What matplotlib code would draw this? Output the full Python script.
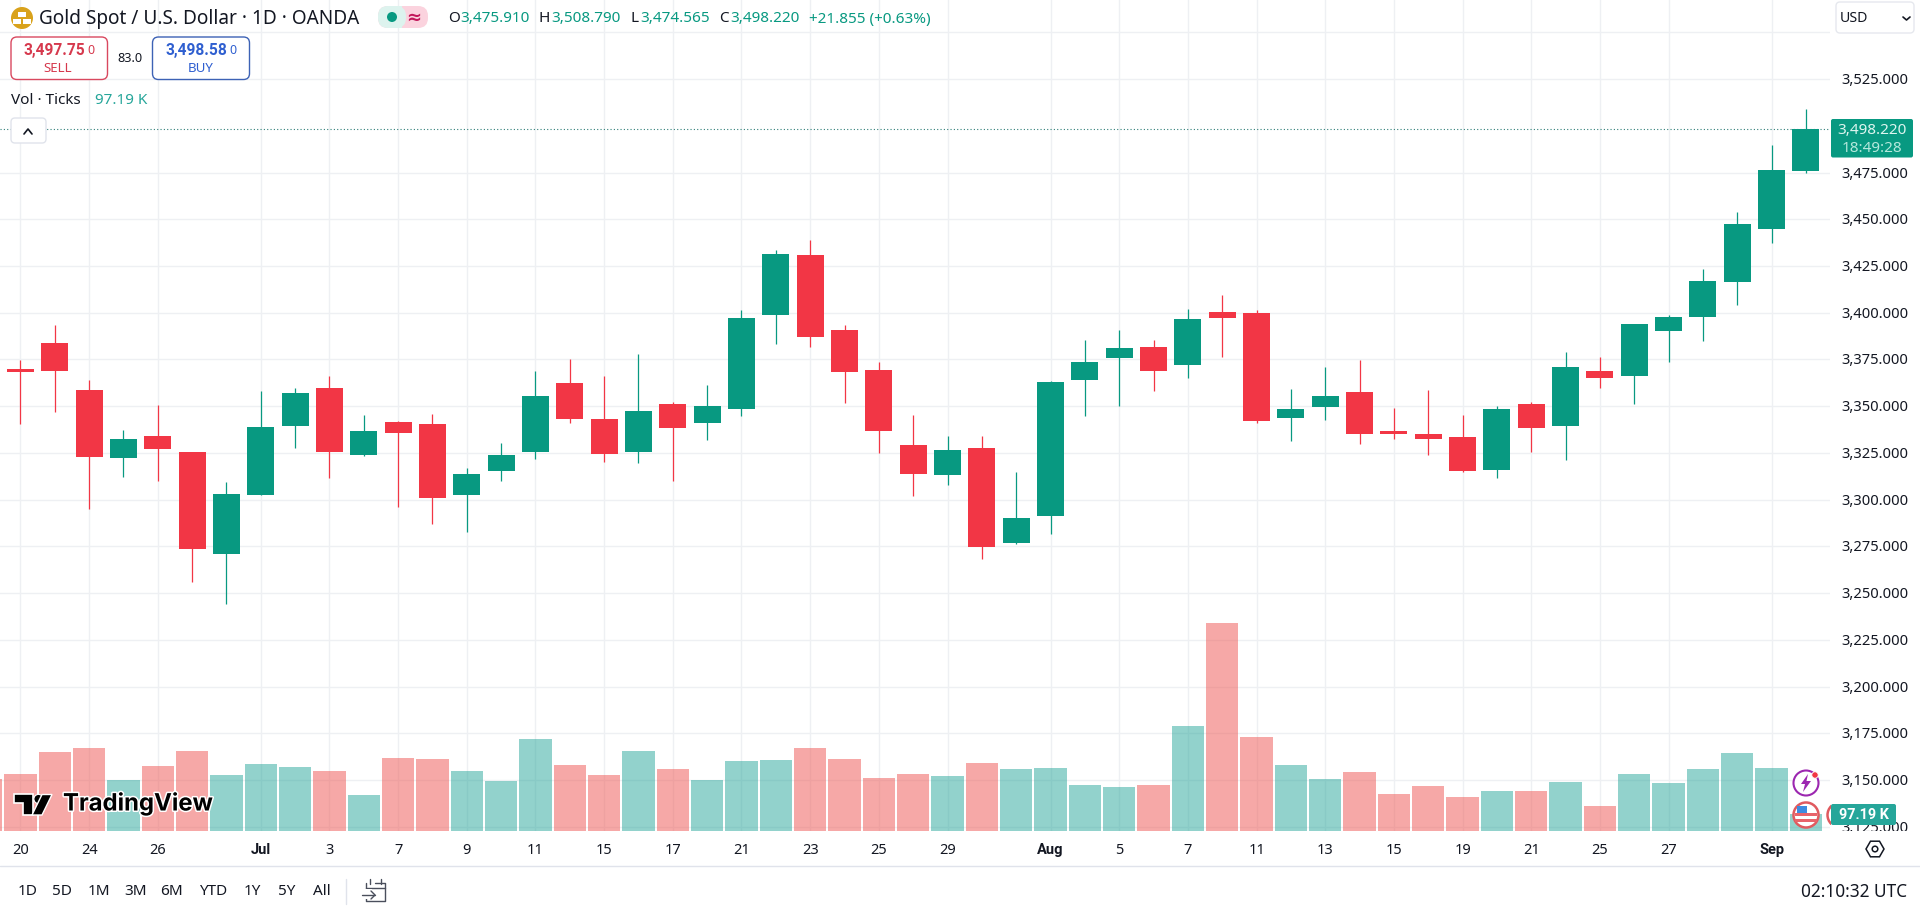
import matplotlib
matplotlib.use("Agg")
import matplotlib.pyplot as plt
import numpy as np
from matplotlib.lines import Line2D
from matplotlib.patches import Circle, FancyBboxPatch, Polygon, Rectangle
from matplotlib.transforms import Affine2D, ScaledTranslation
import matplotlib.patheffects as pe

plt.rcParams["font.family"] = ["Noto Sans", "DejaVu Sans"]

opens = [3369.9, 3383.8, 3358.6, 3322.4, 3334.0, 3325.5, 3271.0, 3302.6, 3339.5, 3359.7,
         3324.0, 3341.5, 3340.4, 3302.6, 3315.5, 3325.6, 3362.4, 3343.1, 3325.6, 3351.1,
         3341.2, 3348.6, 3398.9, 3430.8, 3390.7, 3369.3, 3329.2, 3313.3, 3327.6, 3277.0,
         3291.4, 3364.2, 3375.9, 3381.6, 3372.2, 3400.4, 3399.7, 3343.8, 3349.7, 3357.6,
         3336.7, 3335.1, 3333.5, 3316.0, 3351.1, 3339.6, 3368.8, 3366.3, 3390.4, 3397.9,
         3416.6, 3444.9, 3475.91]
highs = [3374.7, 3393.4, 3364.0, 3337.2, 3350.6, 3325.5, 3309.4, 3357.9, 3360.0, 3366.0,
         3345.3, 3342.2, 3345.6, 3316.9, 3330.3, 3368.8, 3375.0, 3366.1, 3377.9, 3352.2,
         3361.3, 3401.4, 3433.3, 3438.9, 3393.2, 3373.4, 3345.1, 3334.0, 3334.0, 3314.8,
         3363.3, 3385.2, 3390.7, 3385.2, 3402.0, 3409.4, 3401.4, 3359.2, 3370.9, 3374.7,
         3349.0, 3358.6, 3345.3, 3349.9, 3352.2, 3379.0, 3376.3, 3393.9, 3398.6, 3423.2,
         3453.7, 3489.7, 3508.79]
lows = [3340.4, 3346.7, 3295.0, 3312.1, 3310.0, 3256.0, 3244.3, 3302.6, 3327.8, 3311.7,
        3323.5, 3296.2, 3287.0, 3282.8, 3310.1, 3321.7, 3341.0, 3320.3, 3319.8, 3310.0,
        3332.1, 3344.9, 3383.4, 3381.8, 3351.9, 3325.0, 3302.1, 3308.0, 3268.4, 3276.4,
        3281.8, 3344.9, 3350.3, 3358.3, 3365.0, 3376.3, 3341.2, 3331.5, 3342.8, 3329.9,
        3332.6, 3324.0, 3315.0, 3311.7, 3325.7, 3321.4, 3359.9, 3351.2, 3373.6, 3385.0,
        3404.3, 3437.5, 3474.565]
closes = [3368.4, 3369.0, 3323.0, 3332.4, 3327.2, 3273.8, 3303.0, 3338.8, 3357.0, 3325.6,
          3336.7, 3335.8, 3301.0, 3313.7, 3323.9, 3355.4, 3343.3, 3324.6, 3347.4, 3338.5,
          3350.1, 3397.1, 3431.4, 3387.2, 3368.4, 3336.9, 3313.9, 3326.5, 3274.8, 3290.2,
          3362.9, 3373.6, 3381.1, 3369.0, 3396.6, 3397.1, 3342.2, 3348.5, 3355.4, 3335.3,
          3335.3, 3332.6, 3315.5, 3348.5, 3338.5, 3370.9, 3365.2, 3393.9, 3397.7, 3416.9,
          3447.4, 3476.3, 3498.22]
# in thousands of ticks
volumes = [330, 460, 481, 295, 376, 464, 324, 388, 371, 347,
           208, 423, 417, 347, 289, 534, 382, 324, 464, 359,
           295, 405, 411, 481, 417, 307, 330, 318, 394, 359,
           365, 266, 254, 266, 609, 1209, 545, 382, 301, 341,
           213, 260, 196, 231, 231, 283, 144, 330, 277, 359,
           452, 365, 97.19]
prev_volume = 301

price_ticks = [3550, 3525, 3475, 3450, 3425, 3400, 3375, 3350, 3325, 3300, 3275, 3250, 3225, 3200, 3175, 3150, 3125]
price_labels = ["", "3,525.000", "3,475.000", "3,450.000", "3,425.000", "3,400.000", "3,375.000", "3,350.000",
                "3,325.000", "3,300.000", "3,275.000", "3,250.000", "3,225.000", "3,200.000", "3,175.000",
                "3,150.000", "3,125.000"]
date_pos = [0, 2, 4, 7, 9, 11, 13, 15, 17, 19, 21, 23, 25, 27, 30, 32, 34, 36, 38, 40, 42, 44, 46, 48, 51]
date_labels = ["20", "24", "26", "Jul", "3", "7", "9", "11", "15", "17", "21", "23", "25", "29", "Aug",
               "5", "7", "11", "13", "15", "19", "21", "25", "27", "Sep"]
last_price = 3498.22

GREEN = "#089981"
RED = "#F23645"
INK = "#131722"
GRID = "#EEF0F3"
BOLD_FONT = "Roboto"

W, H = 1920, 912
fig = plt.figure(figsize=(W / 100, H / 100), dpi=100, facecolor="white")
px = Affine2D().scale(1 / W, -1 / H).translate(0, 1) + fig.transFigure


def axes_px(x0, y0, x1, y1, **kw):
    return fig.add_axes([x0 / W, 1 - y1 / H, (x1 - x0) / W, (y1 - y0) / H], **kw)


def txt(x, y, s, size=10.5, color=INK, ha="left", weight="normal", **kw):
    if weight == "bold" and "family" not in kw:
        kw["family"] = BOLD_FONT
    return fig.text(x, y, s, transform=px, fontsize=size, color=color, ha=ha, va="center",
                    fontweight=weight, zorder=8, **kw)


def box(x0, y0, x1, y1, face="white", edge="none", round_px=4, lw=1, z=5):
    p = FancyBboxPatch((x0 + round_px, y0 + round_px), x1 - x0 - 2 * round_px, y1 - y0 - 2 * round_px,
                       boxstyle="round,pad=%f,rounding_size=%f" % (round_px, round_px),
                       fc=face, ec=edge, lw=lw, transform=px, zorder=z)
    fig.add_artist(p)
    return p


def stroke(xs, ys, color=INK, lw=1.0, z=6):
    fig.add_artist(Line2D(xs, ys, color=color, lw=lw, transform=px, zorder=z, solid_capstyle="round"))


def shape(p, z=6):
    fig.add_artist(p)
    p.set_transform(px)
    p.set_zorder(z)


# price pane
xlim = (-0.594, 52.7)
ax = axes_px(0, 0, 1830, 832, zorder=1)
ax.set_xlim(*xlim)
ax.set_ylim(3122.8, 3567.8)
for s in ax.spines.values():
    s.set_visible(False)
ax.yaxis.tick_right()
ax.set_yticks(price_ticks, price_labels)
ax.tick_params(axis="y", length=0, pad=8, labelsize=10.6, labelcolor=INK)
up = ScaledTranslation(0, 1.5 / 72 * 0.72, fig.dpi_scale_trans)
for t in ax.get_yticklabels():
    t.set_transform(t.get_transform() + up)
ax.set_xticks(date_pos)
ax.tick_params(axis="x", length=0, labelbottom=False)
ax.grid(True, color=GRID, lw=1)
ax.set_axisbelow(True)

x = np.arange(len(closes))
o = np.array(opens)
c = np.array(closes)
col = [GREEN if cc >= oo else RED for oo, cc in zip(o, c)]
ax.vlines(x, lows, highs, colors=col, lw=0.9, zorder=2)
ax.bar(x, np.abs(c - o), bottom=np.minimum(o, c), width=0.786, color=col, lw=0, zorder=3)
ax.axhline(last_price, color="#2F7F78", lw=0.8, ls=(0, (1, 2)), zorder=2)

# volume pane on top with its own scale
ax_vol = axes_px(0, 0, 1830, 832, zorder=2)
ax_vol.patch.set_alpha(0)
ax_vol.set_xlim(*xlim)
ax_vol.set_ylim(0, 832 * 5.82)
ax_vol.axis("off")
vcol = ["#26A69A" if cc >= oo else "#EF5350" for oo, cc in zip(o, c)]
ax_vol.bar(x, volumes, width=0.94, color=vcol, alpha=0.5, lw=0)
ax_vol.bar([-1], [prev_volume], width=0.94, color="#EF5350", alpha=0.5, lw=0)

# date strip
ax_date = axes_px(0, 832, 1920, 867, zorder=3)
ax_date.set_xlim(xlim[0], xlim[0] + (xlim[1] - xlim[0]) * 1920 / 1830)
ax_date.set_ylim(0, 1)
ax_date.set_yticks([])
for s in ax_date.spines.values():
    s.set_visible(False)
ax_date.tick_params(axis="x", length=0, pad=-17, labelsize=10.5, labelcolor=INK)
ax_date.set_xticks(date_pos, date_labels)
for t in ax_date.get_xticklabels():
    if t.get_text() in ("Jul", "Aug", "Sep"):
        t.set_fontweight("bold")
        t.set_family(BOLD_FONT)

stroke([0, 1920], [867, 867], "#E0E3EB", 1)

# header
shape(Circle((22, 19), 11, fc="#D9A21B", ec="none"))
for bx, by in [(17, 22), (27, 22), (22, 15)]:
    shape(Rectangle((bx - 4, by - 2.5), 8, 5, fc="white", ec="none"), z=7)
txt(39, 19, "Gold Spot / U.S. Dollar · 1D · OANDA", size=13.7)
box(378, 7, 428, 29, face="#FBD3DE", round_px=10)
box(378, 7, 406, 29, face="#DDF3EE", round_px=10, z=5)
shape(Rectangle((396, 7), 6, 22, fc="#DDF3EE", ec="none"), z=5)
shape(Circle((392, 18), 5, fc=GREEN, ec="none"))
txt(414, 18, "≈", size=13, color="#C2185B", ha="center", weight="bold", family="DejaVu Sans")
for lx, vx, letter, val in [(448, 460, "O", "3,475.910"), (539, 551, "H", "3,508.790"),
                            (630, 640, "L", "3,474.565"), (719, 730, "C", "3,498.220")]:
    txt(lx, 19, letter, size=11)
    txt(vx, 19, val, size=11, color=GREEN)
txt(809, 19, "+21.855 (+0.63%)", size=11, color=GREEN)

box(11, 38, 107.5, 80.5, edge="#D9485F", round_px=6)
txt(24, 50.5, "3,497.75", size=11.2, color="#D6394D", weight="bold")
txt(87, 50.5, "0", size=9, color="#D6394D")
txt(58, 68, "SELL", size=9.6, color="#D6394D", ha="center")
txt(130, 59, "83.0", size=9.2, ha="center")
box(152.5, 38, 249.5, 80.5, edge="#3D62B5", round_px=6)
txt(166, 50.5, "3,498.58", size=11.2, color="#2F5FD0", weight="bold")
txt(229, 50.5, "0", size=9, color="#2F5FD0")
txt(200.5, 68, "BUY", size=9.6, color="#2F5FD0", ha="center")

txt(11, 101, "Vol · Ticks", size=11)
txt(95, 101, "97.19 K", size=11, color="#26A69A")
box(11, 119, 46, 144, edge="#E0E3EB", round_px=4)
stroke([24, 28, 32], [135, 130, 135], INK, 1.2)

# right side labels
box(1836, 3, 1914, 34, edge="#E6E8EE", round_px=4)
txt(1840, 19, "USD", size=10.2)
stroke([1903, 1906.5, 1910], [18, 21, 18], INK, 1.2)
box(1831, 120, 1913, 158.5, face=GREEN, round_px=2)
txt(1872, 130, "3,498.220", size=11, color="#DDF5EF", ha="center")
txt(1872, 148, "18:49:28", size=11, color="#B5E8DC", ha="center")

shape(Circle((1806, 784), 12.5, fc="white", ec="#9C27B0", lw=1.5))
shape(Polygon([(1808, 775), (1801, 785), (1805, 785), (1803, 793), (1811, 782), (1806.5, 782)],
              fc="#9C27B0", ec="none"), z=7)
shape(Circle((1815, 776), 3.2, fc="#F23645", ec="white", lw=0.6), z=7)
shape(Circle((1806, 816), 12.5, fc="white", ec="#E05A5F", lw=1.8))
for sy in (814, 820):
    shape(Rectangle((1795, sy), 22, 2.6, fc="#E8636A", ec="none"), z=7)
shape(Rectangle((1797, 807), 10, 7, fc="#3D8BE0", ec="none"), z=7)
ring = Circle((1840, 816), 12.5, fc="white", ec="#E05A5F", lw=1.8)
shape(ring, z=5)
ring.set_clip_path(Rectangle((1820, 805), 11, 21, transform=px))
box(1831, 805, 1896, 826, face="#26A69A", round_px=2, z=7)
txt(1863.5, 815.5, "97.19 K", size=10.4, color="white", ha="center", weight="bold")

# watermark
for p in [Polygon([(14, 795.5), (33, 795.5), (33, 816), (23, 816), (23, 804), (14, 804)], fc="black", ec="white", lw=1.2),
          Circle((38.5, 800), 4.6, fc="black", ec="white", lw=0.8),
          Polygon([(42, 795.5), (52, 795.5), (42, 816), (32, 816)], fc="black", ec="white", lw=1.0)]:
    shape(p)
wm = txt(63, 805, "TradingView", size=17.2, color="black", weight="bold", family="Inter")
wm.set_path_effects([pe.withStroke(linewidth=2.2, foreground="white")])

# gear in the date strip
ang = np.deg2rad(np.arange(0, 360, 60))
shape(Polygon(np.c_[1875 + 9 * np.cos(ang), 850 + 9 * np.sin(ang)], fc="white", ec=INK, lw=1.1), z=6)
shape(Circle((1875, 850), 2.8, fc="white", ec=INK, lw=1.1), z=7)

# range row
for rx, label in zip([27.8, 62.4, 98.8, 135.5, 171.4, 212.7, 252.2, 286.5, 321.6],
                     ["1D", "5D", "1M", "3M", "6M", "YTD", "1Y", "5Y", "All"]):
    txt(rx, 892, label, size=11, ha="center")
stroke([345.7, 345.7], [880, 905], "#E0E3EB", 1)
stroke([366, 366, 385, 385, 375], [884, 902, 902, 884, 884], "#4A4F5C", 1.0)
stroke([366, 385], [889, 889], "#4A4F5C", 1.0)
stroke([370, 370], [880, 885], "#4A4F5C", 1.0)
stroke([381, 381], [880, 885], "#4A4F5C", 1.0)
box(362, 890, 372, 900, face="white", round_px=0, z=6)
stroke([362, 375], [896, 896], "#4A4F5C", 1.0, z=7)
stroke([371, 375, 371], [892, 896, 900], "#4A4F5C", 1.0, z=7)
txt(1907, 892, "02:10:32 UTC", size=12.4, ha="right")

fig.savefig("out.png", dpi=100)
